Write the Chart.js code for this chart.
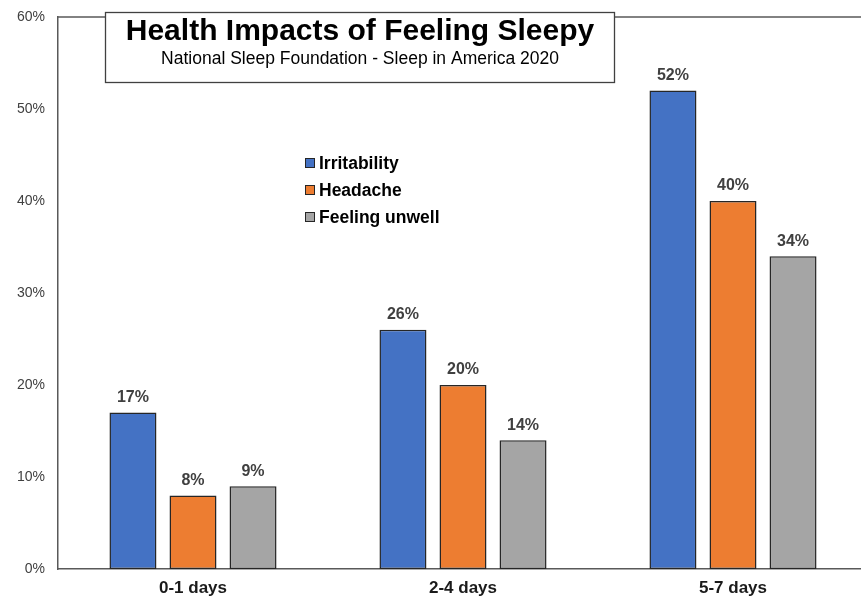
<!DOCTYPE html>
<html><head><meta charset="utf-8">
<script src="https://cdn.jsdelivr.net/npm/chart.js@4/dist/chart.umd.min.js"></script>
<style>html,body{margin:0;padding:0;overflow:hidden;background:#fff}#wrap{width:870px;height:599px}</style>
</head><body><div id="wrap"><canvas id="c" width="870" height="599"></canvas></div>
<script>
const categories = ["0-1 days", "2-4 days", "5-7 days"];
const seriesNames = ["Irritability", "Headache", "Feeling unwell"];
const irritability = [17, 26, 52];
const headache = [8, 20, 40];
const feelingUnwell = [9, 14, 34];
const yTicks = [0, 10, 20, 30, 40, 50, 60];
const titleText = "Health Impacts of Feeling Sleepy";
const subtitleText = "National Sleep Foundation - Sleep in America 2020";

const colors = ["#4472C4", "#ED7D31", "#A5A5A5"];
const FONT = "'Liberation Sans', Arial, sans-serif";

const overlay = {
  id: 'overlay',
  beforeDatasetsDraw(chart) {
    const ctx = chart.ctx, a = chart.chartArea;
    ctx.save();
    ctx.strokeStyle = '#595959'; ctx.lineWidth = 1.5;
    ctx.beginPath(); ctx.moveTo(a.left, a.top); ctx.lineTo(a.right, a.top); ctx.stroke();
    ctx.restore();
  },
  afterDatasetsDraw(chart) {
    const ctx = chart.ctx;
    ctx.save();
    ctx.font = "bold 16px " + FONT;
    ctx.fillStyle = '#404040';
    ctx.textAlign = 'center'; ctx.textBaseline = 'middle';
    chart.data.datasets.forEach((ds, i) => {
      chart.getDatasetMeta(i).data.forEach((bar, j) => {
        ctx.fillText(ds.data[j] + '%', bar.x, bar.y - 15);
      });
    });
    ctx.fillStyle = '#fff';
    ctx.fillRect(105, 12, 509, 70);
    ctx.strokeStyle = '#404040'; ctx.lineWidth = 1.3;
    ctx.strokeRect(105.5, 12.5, 509, 70);
    ctx.fillStyle = '#000';
    ctx.font = "bold 30px " + FONT;
    ctx.fillText(titleText, 360, 32);
    ctx.font = "17.5px " + FONT;
    ctx.fillText(subtitleText, 360, 59);
    ctx.textAlign = 'left';
    ctx.font = "bold 17.5px " + FONT;
    seriesNames.forEach((n, i) => {
      const y = 163 + i * 27;
      ctx.fillStyle = colors[i];
      ctx.fillRect(305, y - 5, 10, 10);
      ctx.strokeStyle = '#262626'; ctx.lineWidth = 1;
      ctx.strokeRect(305.5, y - 4.5, 9, 9);
      ctx.fillStyle = '#000';
      ctx.fillText(n, 319, y + 1);
    });
    ctx.restore();
  }
};

new Chart(document.getElementById('c'), {
  type: 'bar',
  data: {
    labels: categories,
    datasets: [irritability, headache, feelingUnwell].map((d, i) => ({
      label: seriesNames[i],
      data: d,
      backgroundColor: colors[i],
      borderColor: '#262626',
      borderWidth: 1.5,
      borderSkipped: false,
      barPercentage: 0.783,
      categoryPercentage: 0.667
    }))
  },
  options: {
    responsive: false,
    animation: false,
    devicePixelRatio: 1,
    layout: { padding: { left: 0, top: 17, right: 2, bottom: 0 } },
    plugins: { legend: { display: false }, tooltip: { enabled: false }, title: { display: false } },
    scales: {
      x: {
        grid: { display: false, drawTicks: false },
        border: { display: true, color: '#595959', width: 1.5 },
        ticks: { color: '#1a1a1a', font: { family: FONT, size: 17, weight: 'bold' }, padding: 9, maxRotation: 0 },
        afterFit(s) { s.height = 30; s.paddingLeft = 0; s.paddingRight = 0; }
      },
      y: {
        min: 0, max: 60,
        grid: { display: false, drawTicks: false },
        border: { display: true, color: '#595959', width: 1.5 },
        afterBuildTicks(s) { s.ticks = yTicks.map(v => ({ value: v })); },
        ticks: { color: '#404040', font: { family: FONT, size: 14 }, padding: 13, callback: v => v + '%' },
        afterFit(s) { s.width = 58; s.paddingTop = 0; s.paddingBottom = 0; }
      }
    }
  },
  plugins: [overlay]
});
</script></body></html>
